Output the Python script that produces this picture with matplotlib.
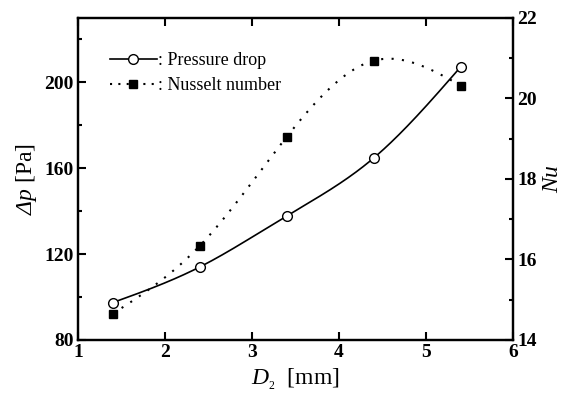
import numpy as np
import matplotlib.pyplot as plt
from matplotlib.ticker import MultipleLocator

plt.rcParams['font.family'] = ['Liberation Serif', 'DejaVu Serif']
plt.rcParams['mathtext.fontset'] = 'custom'
plt.rcParams['mathtext.rm'] = 'Liberation Serif'
plt.rcParams['mathtext.it'] = 'Liberation Serif:italic'
plt.rcParams['mathtext.sf'] = 'Liberation Serif:italic'  # used for the slanted Delta

# data
d2 = [1.4, 2.4, 3.4, 4.4, 5.4]
pressure_drop = [97.4, 114.0, 137.8, 164.8, 207.3]
nusselt = [14.65, 16.34, 19.05, 20.94, 20.32]


def spline(x, y, xs):
    # natural cubic spline through the points
    x = np.asarray(x, float)
    y = np.asarray(y, float)
    n = len(x)
    h = np.diff(x)
    A = np.zeros((n, n))
    b = np.zeros(n)
    A[0, 0] = A[-1, -1] = 1
    for i in range(1, n - 1):
        A[i, i - 1] = h[i - 1]
        A[i, i] = 2 * (h[i - 1] + h[i])
        A[i, i + 1] = h[i]
        b[i] = 6 * ((y[i + 1] - y[i]) / h[i] - (y[i] - y[i - 1]) / h[i - 1])
    M = np.linalg.solve(A, b)
    k = np.clip(np.searchsorted(x, xs) - 1, 0, n - 2)
    t0 = x[k + 1] - xs
    t1 = xs - x[k]
    hk = h[k]
    return (M[k] * t0 ** 3 / (6 * hk) + M[k + 1] * t1 ** 3 / (6 * hk)
            + (y[k] / hk - M[k] * hk / 6) * t0 + (y[k + 1] / hk - M[k + 1] * hk / 6) * t1)


fig = plt.figure(figsize=(5.7, 4.09), dpi=100)
ax = fig.add_axes([0.137, 0.169, 0.763, 0.787])
ax2 = ax.twinx()

xs = np.linspace(d2[0], d2[-1], 300)

ax.plot(xs, spline(d2, pressure_drop, xs), color='black', lw=1.2)
ax.plot(d2, pressure_drop, 'o', mfc='white', mec='black', ms=7, mew=1.0)
ax2.plot(xs, spline(d2, nusselt, xs), color='black', lw=1.5, ls=(0, (1, 4)))
ax2.plot(d2, nusselt, 's', color='black', ms=6)

# legend handles
h1, = ax.plot([], [], '-o', color='black', mfc='white', ms=7, lw=1.2)
h2, = ax.plot([], [], ls=(0, (1, 3)), marker='s', color='black', ms=6, lw=1.5)
ax.legend([h1, h2], [': Pressure drop', ': Nusselt number'], loc='upper left',
          bbox_to_anchor=(0.035, 0.945), frameon=False, fontsize=13,
          handlelength=2.6, handletextpad=0.1, labelspacing=0.45)

ax.set_xlim(1, 6)
ax.set_ylim(80, 230)
ax2.set_ylim(14, 22)

ax.xaxis.set_major_locator(MultipleLocator(1))
ax.yaxis.set_major_locator(MultipleLocator(40))
ax.yaxis.set_minor_locator(MultipleLocator(20))
ax2.yaxis.set_major_locator(MultipleLocator(2))
ax2.yaxis.set_minor_locator(MultipleLocator(1))

ax.tick_params(axis='x', which='both', direction='in', top=True, length=6, width=1.5,
               labelsize=14, pad=3)
ax.tick_params(axis='y', which='major', direction='in', length=6, width=1.5,
               labelsize=14, pad=3)
ax.tick_params(axis='y', which='minor', direction='in', length=3, width=1.5)
ax2.tick_params(axis='y', which='major', direction='in', length=6, width=1.5,
                labelsize=14, pad=3)
ax2.tick_params(axis='y', which='minor', direction='in', length=3, width=1.5)

for a in (ax, ax2):
    for s in a.spines.values():
        s.set_linewidth(1.6)
    for lab in a.get_xticklabels() + a.get_yticklabels():
        lab.set_fontweight('bold')

ax.set_xlabel(r'$D_{_2}$  [mm]', fontsize=17, labelpad=4)
ax.set_ylabel(r'$\mathsf{\Delta}p$ [Pa]', fontsize=17, labelpad=4)
ax2.set_ylabel(r'$Nu$', fontsize=17, labelpad=4)

fig.savefig('out.png', dpi=100)
